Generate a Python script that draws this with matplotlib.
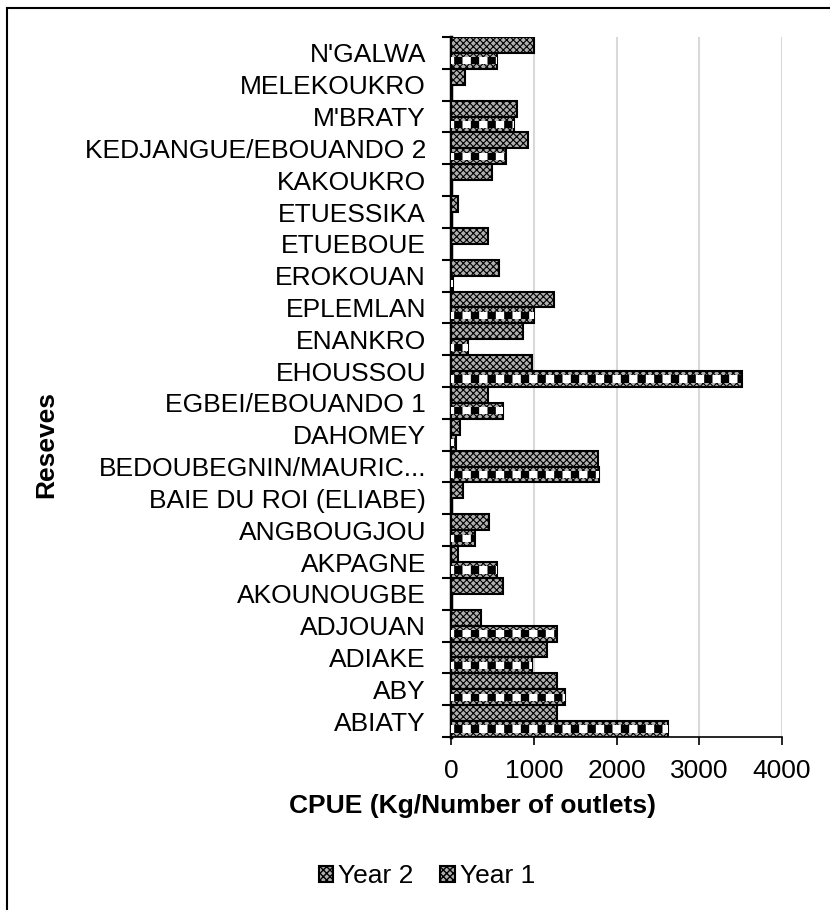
import matplotlib
matplotlib.use("Agg")
import matplotlib.pyplot as plt
from matplotlib.patches import Rectangle
import numpy as np

plt.rcParams['font.family'] = ['Liberation Sans', 'DejaVu Sans']

# reserves, bottom to top as drawn
reserves = ["ABIATY", "ABY", "ADIAKE", "ADJOUAN", "AKOUNOUGBE", "AKPAGNE",
            "ANGBOUGJOU", "BAIE DU ROI (ELIABE)", "BEDOUBEGNIN/MAURIC...",
            "DAHOMEY", "EGBEI/EBOUANDO 1", "EHOUSSOU", "ENANKRO", "EPLEMLAN",
            "EROKOUAN", "ETUEBOUE", "ETUESSIKA", "KAKOUKRO",
            "KEDJANGUE/EBOUANDO 2", "M'BRATY", "MELEKOUKRO", "N'GALWA"]

year2 = [1285, 1278, 1157, 367, 625, 81, 464, 150, 1781, 109, 443, 983,
         867, 1245, 585, 450, 80, 500, 935, 800, 170, 1004]
year1 = [2628, 1375, 980, 1286, 0, 560, 286, 0, 1790, 56, 625, 3520,
         202, 1004, 30, 0, 0, 0, 665, 762, 0, 552]

xticks = [0, 1000, 2000, 3000, 4000]

W, H = 830, 910
fig = plt.figure(figsize=(W / 100, H / 100), dpi=100)
ax = fig.add_axes([451 / W, 1 - 737 / H, (782 - 451) / W, (737 - 37) / H])

y = np.arange(len(reserves))
h = 0.5

# Year 2: fine checker look
b2 = ax.barh(y + h / 2, year2, height=h, facecolor="#b0b0b0", edgecolor="black",
             linewidth=1.5, hatch="xxxxx", label="Year 2", zorder=3)
# Year 1: dotted base with a black/white block row in the middle
b1 = ax.barh(y - h / 2, year1, height=h, facecolor="#b0b0b0", edgecolor="black",
             linewidth=1.5, hatch="xxxxx", label="Year 1", zorder=3)
mid = ax.barh(y - h / 2, year1, height=h * 0.45, facecolor="white", edgecolor="black",
              linewidth=0, hatch="|", zorder=4)
for p in mid:
    if hasattr(p, "set_hatch_linewidth"):
        p.set_hatch_linewidth(6)
for p in list(b2) + list(b1):
    if hasattr(p, "set_hatch_linewidth"):
        p.set_hatch_linewidth(0.8)

ax.set_xlim(0, 4000)
ax.set_ylim(-0.5, len(reserves) - 0.5)
ax.set_xticks(xticks)
ax.set_xticklabels([str(v) for v in xticks], fontsize=19)
ax.set_yticks(y)
ax.set_yticklabels(reserves, fontsize=19)
ax.set_yticks(np.arange(len(reserves) + 1) - 0.5, minor=True)
ax.tick_params(axis="y", which="major", length=0, pad=18)
ax.tick_params(axis="y", which="minor", length=6.5, width=1.5, color="black")
ax.tick_params(axis="x", length=6, width=1.2, pad=10)

ax.grid(axis="x", color="#d9d9d9", linewidth=1.5, zorder=0)
ax.set_axisbelow(True)
for s in ["top", "right"]:
    ax.spines[s].set_visible(False)
ax.spines["left"].set_linewidth(2.5)
ax.spines["bottom"].set_linewidth(1.2)

fig.text(46 / W, 1 - 444 / H, "Reseves", rotation=90, fontsize=19,
         fontweight="bold", ha="center", va="center")
fig.text(472 / W, 1 - 806 / H, "CPUE (Kg/Number of outlets)", fontsize=19,
         fontweight="bold", ha="center", va="center")

fig.legend(handles=[b2, b1], labels=["Year 2", "Year 1"], loc="center",
           bbox_to_anchor=(427 / W, 1 - 876 / H), ncol=2, frameon=False,
           fontsize=19, handlelength=0.55, handleheight=0.55,
           handletextpad=0.2, columnspacing=1.0)

# outer chart border
fig.patches.append(Rectangle((7 / W, -0.05), 1.2, 1 - 8 / H + 0.05,
                             transform=fig.transFigure, fill=False,
                             edgecolor="black", linewidth=1.5))

fig.savefig("out.png", dpi=100)
